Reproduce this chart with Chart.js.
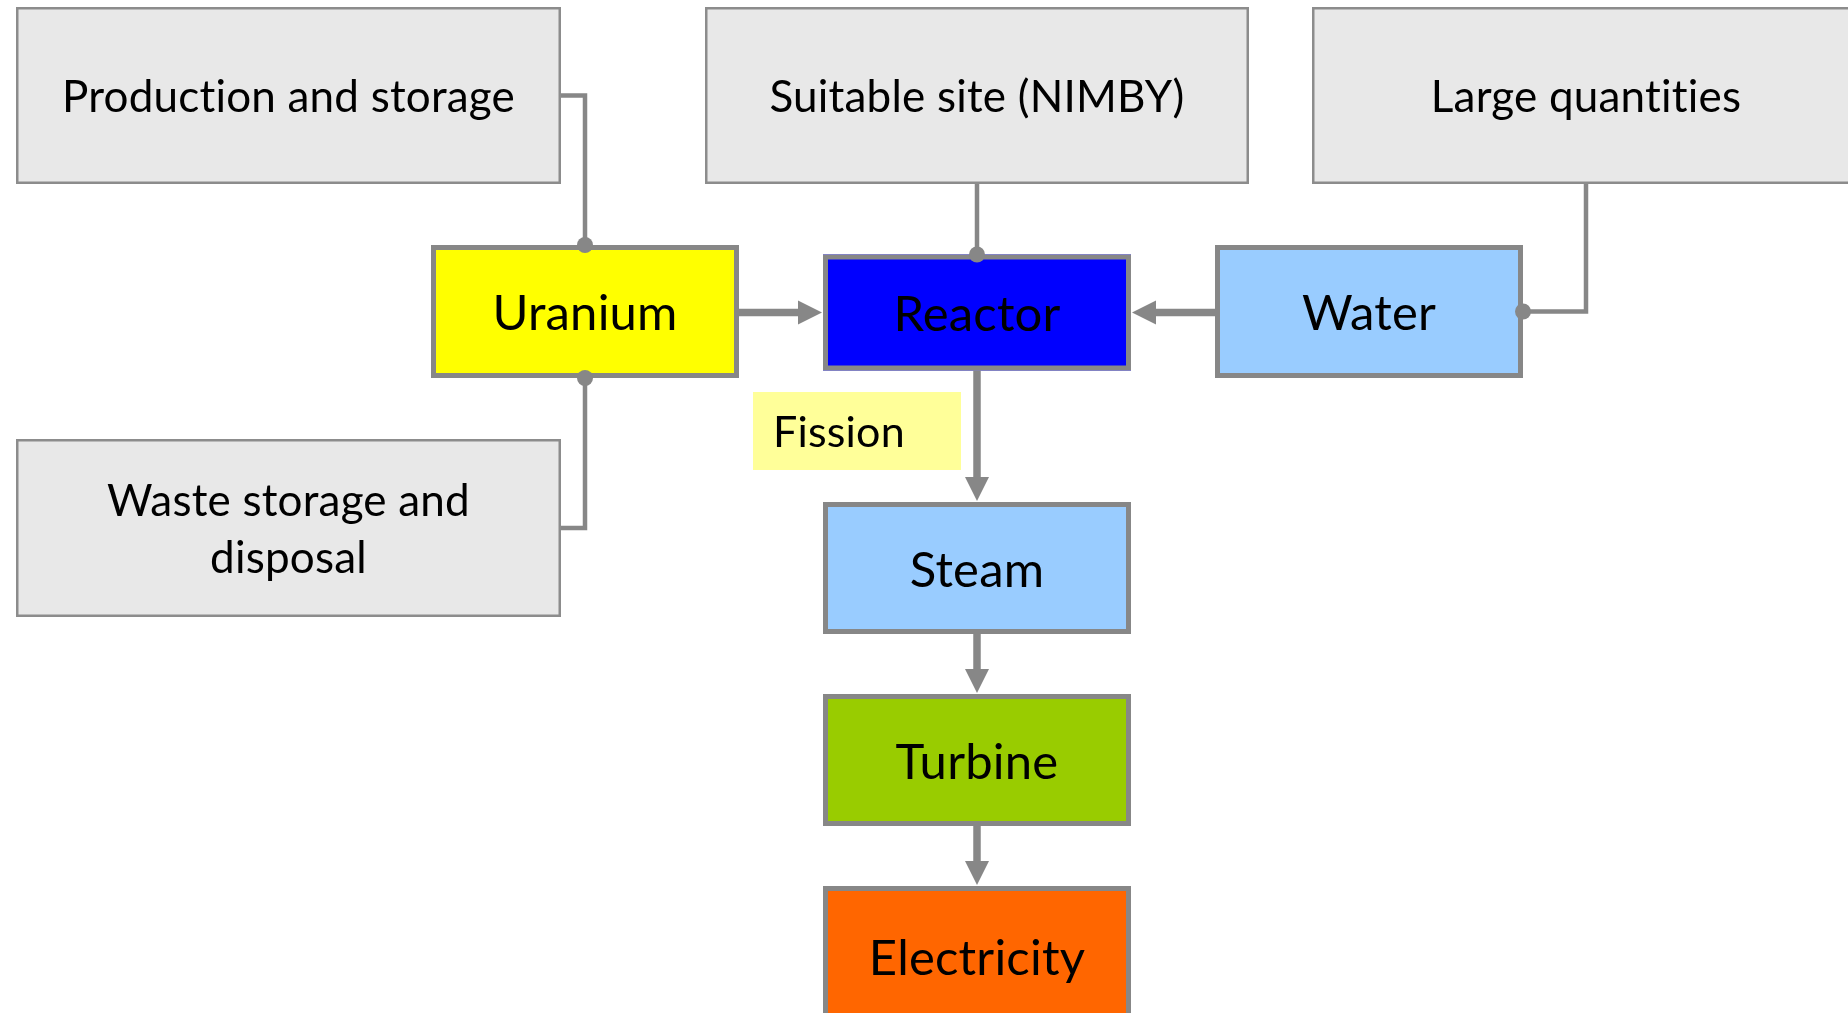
<!DOCTYPE html>
<html>
<head>
<meta charset="utf-8">
<script src="https://cdn.jsdelivr.net/npm/chart.js@4/dist/chart.umd.min.js"></script>
<style>
html,body{margin:0;padding:0;background:#fff;overflow:hidden;}
#wrap{width:1848px;height:1013px;position:relative;}
</style>
</head>
<body>
<div id="wrap"><canvas id="c" width="1848" height="1013"></canvas></div>
<script>
// ---- diagram content ----
const nodeLabels = [
  'Production and storage', 'Suitable site (NIMBY)', 'Large quantities',
  'Uranium', 'Reactor', 'Water', 'Fission',
  'Steam', 'Turbine', 'Electricity', 'Waste storage and\ndisposal'
];
// node centres in diagram units (x: 0..1848, y: 0..1013 from top)
const nodeX = [288.5, 977, 1586, 585, 977, 1369, 857, 977, 977, 977, 288.5];
const nodeY = [95.5, 95.5, 95.5, 311.5, 312.5, 311.5, 431, 568, 760, 956, 528];
// flow arrows: [from, to]
const arrowFrom = ['Uranium', 'Water', 'Reactor', 'Steam', 'Turbine'];
const arrowTo   = ['Reactor', 'Reactor', 'Steam', 'Turbine', 'Electricity'];
// attribute connectors: [attribute box, node]
const linkFrom = ['Production and storage', 'Suitable site (NIMBY)', 'Large quantities', 'Waste storage and\ndisposal'];
const linkTo   = ['Uranium', 'Reactor', 'Water', 'Uranium'];

// ---- styles / sizes ----
const GREY = {w: 545, h: 177, fill: '#e8e8e8', border: '#8c8c8c', bw: 2.5, font: 44};
const MAIN = {w: 308, h: 133, border: '#878787', bw: 5, font: 49};
const nodeStyle = {
  'Production and storage': GREY,
  'Suitable site (NIMBY)': Object.assign({}, GREY, {w: 544}),
  'Large quantities': Object.assign({}, GREY, {w: 548}),
  'Waste storage and\ndisposal': Object.assign({}, GREY, {h: 178}),
  'Uranium': Object.assign({}, MAIN, {fill: '#ffff00'}),
  'Reactor': Object.assign({}, MAIN, {fill: '#0000ff', h: 116}),
  'Water': Object.assign({}, MAIN, {fill: '#99ccff'}),
  'Steam': Object.assign({}, MAIN, {fill: '#99ccff', h: 132}),
  'Turbine': Object.assign({}, MAIN, {fill: '#99cc00', h: 132}),
  'Electricity': Object.assign({}, MAIN, {fill: '#ff6600', h: 140}),
  'Fission': {w: 208, h: 78, fill: '#ffff99', border: null, bw: 0, font: 43, align: 'left', pad: 20}
};
const LINE = '#878787';
const FONT = 'Lato, "Open Sans", sans-serif';

function idx(name){ return nodeLabels.indexOf(name); }

const diagramPlugin = {
  id: 'diagram',
  afterDatasetsDraw(chart) {
    const ctx = chart.ctx, xs = chart.scales.x, ys = chart.scales.y;
    const px = v => xs.getPixelForValue(v), py = v => ys.getPixelForValue(v);
    const box = name => {
      const i = idx(name), s = nodeStyle[name];
      const l = px(nodeX[i] - s.w/2), r = px(nodeX[i] + s.w/2);
      const t = py(nodeY[i] - s.h/2), b = py(nodeY[i] + s.h/2);
      return {l, r, t, b, cx: (l+r)/2, cy: (t+b)/2, s};
    };
    ctx.save();
    // boxes
    nodeLabels.forEach(name => {
      const g = box(name), s = g.s;
      ctx.fillStyle = s.fill;
      ctx.fillRect(g.l, g.t, g.r - g.l, g.b - g.t);
      if (s.border) {
        ctx.strokeStyle = s.border; ctx.lineWidth = s.bw;
        ctx.strokeRect(g.l + s.bw/2, g.t + s.bw/2, g.r - g.l - s.bw, g.b - g.t - s.bw);
      }
      ctx.fillStyle = '#000';
      ctx.font = s.font + 'px ' + FONT;
      try { ctx.textRendering = 'optimizeSpeed'; ctx.letterSpacing = '0.2px'; } catch (e) {}
      ctx.textBaseline = 'alphabetic';
      const lines = name.split('\n');
      const lh = 57, cap = 0.716 * s.font;
      lines.forEach((ln, k) => {
        const yc = g.cy + (k - (lines.length - 1)/2) * lh;
        if (s.align === 'left') { ctx.textAlign = 'left'; ctx.fillText(ln, g.l + s.pad, yc + cap/2 + 1); }
        else { ctx.textAlign = 'center'; ctx.fillText(ln, g.cx, yc + cap/2 + 1); }
      });
    });
    // arrows
    ctx.strokeStyle = LINE; ctx.fillStyle = LINE; ctx.lineWidth = 7.5; ctx.lineCap = 'butt';
    const HL = 24, HW = 12;
    arrowFrom.forEach((f, k) => {
      const a = box(f), b = box(arrowTo[k]);
      let x1, y1, x2, y2;
      if (Math.abs(a.cy - b.cy) < 5) {
        y1 = y2 = b.cy;
        if (b.cx > a.cx) { x1 = a.r; x2 = b.l - 1; } else { x1 = a.l; x2 = b.r + 1; }
      } else {
        x1 = x2 = b.cx; y1 = a.b; y2 = b.t - 1;
      }
      const len = Math.hypot(x2 - x1, y2 - y1), ux = (x2 - x1)/len, uy = (y2 - y1)/len;
      const bx = x2 - ux*HL, by = y2 - uy*HL;
      ctx.beginPath(); ctx.moveTo(x1, y1); ctx.lineTo(bx + ux, by + uy); ctx.stroke();
      ctx.beginPath(); ctx.moveTo(x2, y2);
      ctx.lineTo(bx - uy*HW, by + ux*HW); ctx.lineTo(bx + uy*HW, by - ux*HW); ctx.closePath(); ctx.fill();
    });
    // connectors with dot at the node
    ctx.lineWidth = 4.5; ctx.lineJoin = 'miter';
    const dots = [];
    linkFrom.forEach((f, k) => {
      const a = box(f), b = box(linkTo[k]);
      let pts;
      if (Math.abs(a.cx - b.cx) < 5) {            // straight down
        pts = [[b.cx, a.b], [b.cx, b.t]]; dots.push([b.cx, b.t]);
      } else if (a.b < b.t && a.cx < b.l) {        // from side of attribute box down to node top
        pts = [[a.r, a.cy], [b.cx, a.cy], [b.cx, b.t]]; dots.push([b.cx, b.t]);
      } else if (a.b < b.t) {                      // from bottom of attribute box to node right side
        pts = [[a.cx, a.b], [a.cx, b.cy], [b.r, b.cy]]; dots.push([b.r, b.cy]);
      } else {                                     // attribute below: node bottom to side
        pts = [[b.cx, b.b], [b.cx, a.cy], [a.r, a.cy]]; dots.push([b.cx, b.b]);
      }
      ctx.beginPath(); ctx.moveTo(pts[0][0], pts[0][1]);
      pts.slice(1).forEach(p => ctx.lineTo(p[0], p[1]));
      ctx.stroke();
    });
    dots.forEach(d => { ctx.beginPath(); ctx.arc(d[0], d[1], 8, 0, Math.PI*2); ctx.fill(); });
    ctx.restore();
  }
};

function draw() {
  new Chart(document.getElementById('c'), {
    type: 'scatter',
    data: {
      datasets: [{
        label: 'nodes',
        data: nodeLabels.map((n, i) => ({x: nodeX[i], y: nodeY[i]})),
        pointRadius: 0, pointHoverRadius: 0
      }]
    },
    options: {
      responsive: false, animation: false,
      layout: {padding: 0},
      plugins: {legend: {display: false}, tooltip: {enabled: false}},
      scales: {
        x: {type: 'linear', min: 0, max: 1848, display: false},
        y: {type: 'linear', min: 0, max: 1013, reverse: true, display: false}
      }
    },
    plugins: [diagramPlugin]
  });
}
if (document.fonts && document.fonts.load) {
  Promise.all([document.fonts.load('44px Lato'), document.fonts.load('49px Lato')]).then(draw, draw);
} else draw();
</script>
</body>
</html>
